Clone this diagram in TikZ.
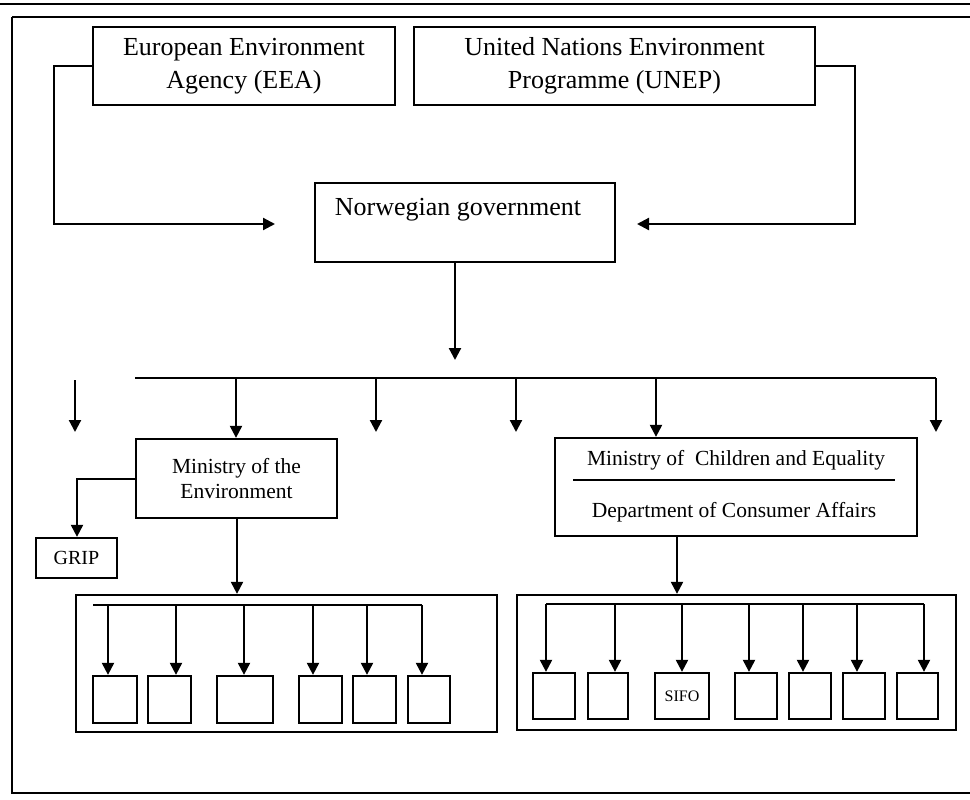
\documentclass[tikz,border=0pt]{standalone}
\usepackage{fontspec}
\setmainfont{Liberation Serif}
\usetikzlibrary{arrows.meta}
\begin{document}
\begin{tikzpicture}[x=1pt,y=-1pt,
  box/.style={draw, line width=2.3pt, inner sep=0pt, align=center},
  big/.style={font=\fontsize{26}{33}\selectfont},
  mid/.style={font=\fontsize{21.5}{25}\selectfont},
  conn/.style={line width=2.2pt},
  arr/.style={line width=2.2pt, -{Triangle[length=12pt,width=12pt]}},
  frame/.style={line width=2.6pt}]
\useasboundingbox (0,0) rectangle (970,800);
% outer frame
\draw[frame] (0,4) -- (970,4);
\draw[frame] (12,17) -- (970,17);
\draw[frame] (12,17) -- (12,793) -- (970,793);
% top boxes
\node[box,big,minimum width=302pt,minimum height=78pt] (eea) at (244,66) {European Environment\\Agency (EEA)};
\node[box,big,minimum width=401pt,minimum height=78pt] (unep) at (614.5,66) {United Nations Environment\\Programme (UNEP)};
\node[box,minimum width=300pt,minimum height=79pt] (gov) at (465,222.5) {};
\node[big,inner sep=0pt] (govtext) at (458,210) {Norwegian government};
\coordinate (eeain) at (275,224);
\coordinate (unepin) at (637,224);
\draw[arr] (eea.west) -- (54,66) -- (54,224) -- (eeain);
\draw[arr] (unep.east) -- (855,66) -- (855,224) -- (unepin);
\coordinate (govout) at (455,360);
\draw[arr] (gov.south -| 455,0) -- (govout);
% bus
\coordinate (busL) at (135,378);
\coordinate (busR) at (936,378);
\draw[conn] (busL) -- (busR);
% ministries
\node[box,mid,minimum width=201pt,minimum height=79pt] (moe) at (236.5,478.5) {Ministry of the\\Environment};
\node[box,minimum width=362pt,minimum height=98pt] (mce) at (736,487) {};
\node[mid,inner sep=0pt] (mcet) at (736,460) {Ministry of \ Children and Equality};
\node[mid,inner sep=0pt] (mceb) at (734,512) {Department of Consumer Affairs};
\draw[conn] (573,480) -- (895,480);
\node[box,font=\fontsize{20}{24}\selectfont,minimum width=81pt,minimum height=40pt] (grip) at (76.5,558) {GRIP};
% drops from bus
\draw[arr] (236,378) -- (moe.north -| 236,0);
\draw[arr] (656,378) -- (mce.north -| 656,0);
\coordinate (d3) at (376,432);
\coordinate (d4) at (516,432);
\coordinate (d6) at (936,432);
\draw[arr] (376,378) -- (d3);
\draw[arr] (516,378) -- (d4);
\draw[arr] (busR) -- (d6);
\coordinate (f0s) at (75,380);
\coordinate (f0e) at (75,432);
\draw[arr] (f0s) -- (f0e);
% GRIP
\draw[arr] (moe.west |- 0,479) -- (77,479) -- (grip.north -| 77,0);
% containers
\node[box,minimum width=421pt,minimum height=137pt] (lc) at (286.5,663.5) {};
\node[box,minimum width=439pt,minimum height=135pt] (rc) at (736.5,662.5) {};
\draw[arr] (moe.south -| 237,0) -- (lc.north -| 237,0);
\draw[arr] (mce.south -| 677,0) -- (rc.north -| 677,0);
% left small boxes
\foreach \i/\a/\b in {1/93/137,2/148/191,3/217/273,4/299/342,5/353/396,6/408/450}
  \node[box,minimum width=\b pt-\a pt,minimum height=47pt] (lb\i) at ({(\a+\b)/2},699.5) {};
\draw[conn] (93,605) -- (422,605);
\foreach \i/\x in {1/108,2/176,3/244,4/313,5/367,6/422}
  \draw[arr] (\x,605) -- (lb\i.north -| \x,0);
% right small boxes
\foreach \i/\a/\b in {1/533/575,2/588/628,4/735/777,5/789/831,6/843/885,7/897/938}
  \node[box,minimum width=\b pt-\a pt,minimum height=46pt] (rb\i) at ({(\a+\b)/2},696) {};
\node[box,font=\fontsize{16}{18}\selectfont,minimum width=54pt,minimum height=46pt] (rb3) at (682,696) {SIFO};
\draw[conn] (546,604) -- (924,604);
\foreach \i/\x in {1/546,2/615,3/682,4/749,5/803,6/857,7/924}
  \draw[arr] (\x,604) -- (rb\i.north -| \x,0);
\end{tikzpicture}
\end{document}
